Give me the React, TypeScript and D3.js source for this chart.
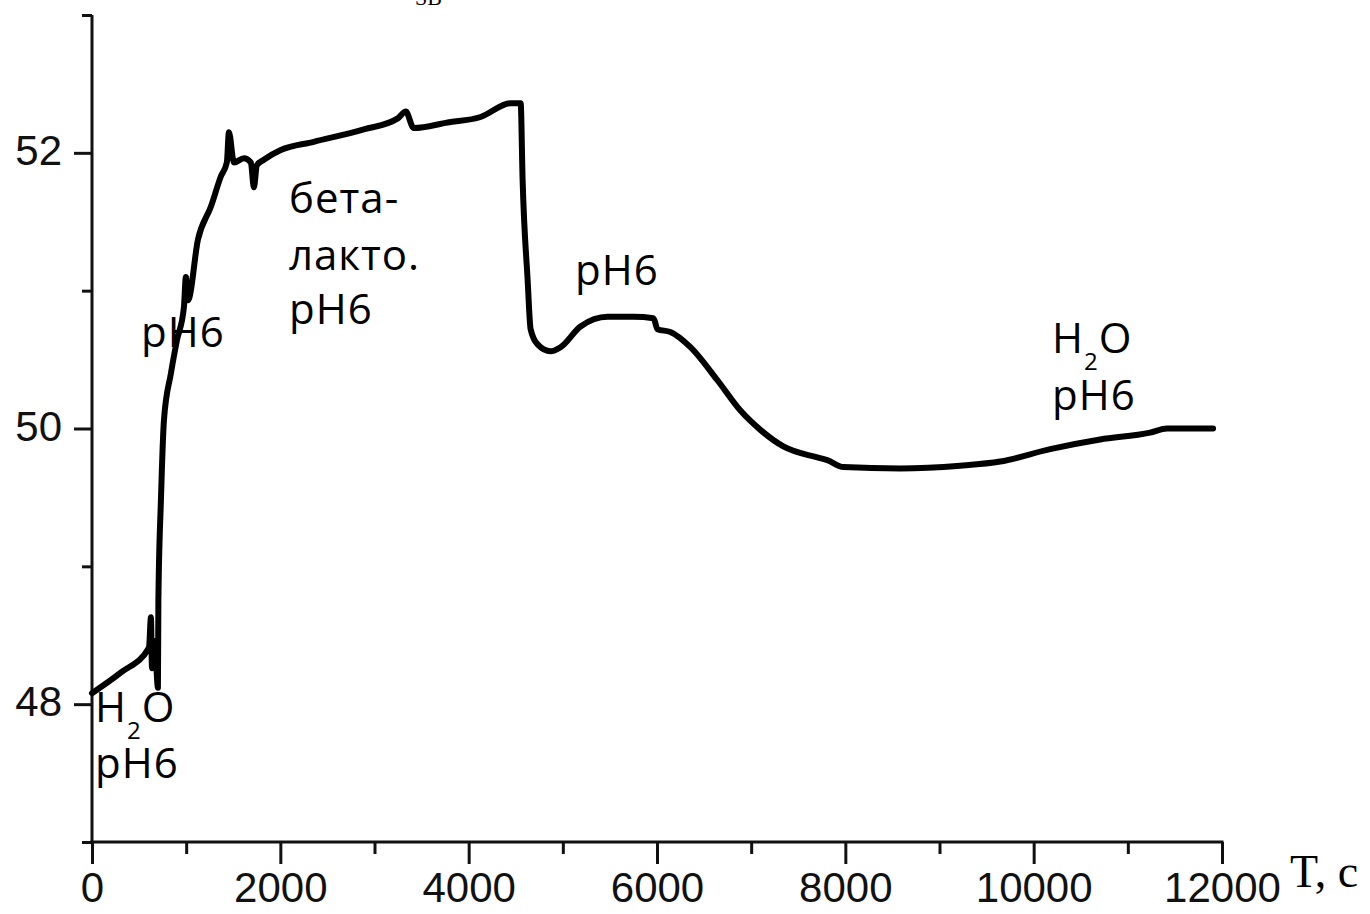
import React, { useRef, useEffect } from 'react';
import * as d3 from 'd3';

// time, s
const times = [
  0, 308, 605, 626, 637, 658, 679, 700, 705, 732, 764, 838, 902, 976, 997, 1019,
  1125, 1263, 1369, 1432, 1454, 1507, 1613, 1687, 1719, 1751, 1825, 2005, 2355,
  2886, 3247, 3332, 3416, 3777, 4127, 4446, 4552, 4573, 4626, 4658, 4732, 4870,
  4976, 5188, 5475, 5751, 5963, 6005, 6143, 6355, 6642, 6886, 7098, 7342, 7703,
  7809, 7979, 8584, 9220, 9645, 10175, 10706, 11236, 11416, 11905,
];
const values = [
  48.08, 48.23, 48.41, 48.63, 48.26, 48.46, 48.32, 48.12, 48.75, 49.48, 50.06, 50.4,
  50.64, 50.88, 51.1, 50.93, 51.37, 51.61, 51.83, 51.93, 52.15, 51.93, 51.96, 51.93,
  51.75, 51.91, 51.95, 52.02, 52.08, 52.17, 52.25, 52.3, 52.18, 52.22, 52.26, 52.36,
  52.36, 51.8, 51.08, 50.72, 50.61, 50.56, 50.59, 50.74, 50.81, 50.81, 50.8, 50.72,
  50.7, 50.59, 50.35, 50.13, 49.99, 49.87, 49.79, 49.77, 49.72, 49.71, 49.73, 49.76,
  49.85, 49.92, 49.97, 50.0, 50.0,
];

const xMajor = [0, 2000, 4000, 6000, 8000, 10000, 12000];
const xMinor = [1000, 3000, 5000, 7000, 9000, 11000];
const yMajor = [48, 50, 52];
const yMinor = [47, 49, 51, 53];

const SANS = '"Liberation Sans", Arial, sans-serif';
const NOTE = '"Open Sans", "Noto Sans", sans-serif';
const SERIF = '"Liberation Serif", "Times New Roman", serif';
const INK = '#111';

const App: React.FC = () => {
  const ref = useRef<SVGSVGElement>(null);

  useEffect(() => {
    if (!ref.current) return;
    const svg = d3.select(ref.current);
    svg.selectAll('*').remove();

    const x = d3.scaleLinear().domain([0, 12000]).range([92, 1222]);
    const y = d3.scaleLinear().domain([47, 53]).range([842, 15]);

    const styleAxis = (a: any) => {
      a.select('.domain').remove();
      a.selectAll('line').style('stroke', INK).style('stroke-width', 3);
      a.selectAll('text').style('fill', INK).style('font-family', SANS).style('font-size', '42px');
    };

    // x axis
    const xA = svg.append('g').attr('transform', `translate(0,${y(47)})`)
      .call(d3.axisBottom(x).tickValues(xMajor).tickSize(22).tickPadding(8).tickFormat(d3.format('d')));
    styleAxis(xA);
    const xm = svg.append('g').attr('transform', `translate(0,${y(47)})`)
      .call(d3.axisBottom(x).tickValues(xMinor).tickSize(12).tickFormat(() => ''));
    styleAxis(xm);

    // y axis
    const yA = svg.append('g').attr('transform', `translate(${x(0)},0)`)
      .call(d3.axisLeft(y).tickValues(yMajor).tickSize(18).tickPadding(12).tickFormat(d3.format('d')));
    styleAxis(yA);
    yA.selectAll('text').attr('dy', '0.28em');
    const ym = svg.append('g').attr('transform', `translate(${x(0)},0)`)
      .call(d3.axisLeft(y).tickValues(yMinor).tickSize(10).tickFormat(() => ''));
    styleAxis(ym);

    svg.append('line')
      .attr('x1', x(0)).attr('x2', x(0)).attr('y1', y(53)).attr('y2', y(47) + 1.5)
      .style('stroke', INK).style('stroke-width', 3);
    svg.append('line')
      .attr('x1', x(0) - 1.5).attr('x2', x(12000) + 1.5).attr('y1', y(47)).attr('y2', y(47))
      .style('stroke', INK).style('stroke-width', 3);

    // curve
    const pts = times.map((t, i) => [t, values[i]] as [number, number]);
    svg.append('path')
      .datum(pts)
      .attr('fill', 'none')
      .attr('stroke', '#000')
      .attr('stroke-width', 6)
      .attr('stroke-linejoin', 'round')
      .attr('stroke-linecap', 'round')
      .attr('d', d3.line<[number, number]>().x(d => x(d[0])).y(d => y(d[1])).curve(d3.curveMonotoneX) as any);

    // annotations
    const note = (tx: number, ty: number, s: string) =>
      svg.append('text').attr('x', tx).attr('y', ty)
        .style('font-family', NOTE).style('font-size', '42px').style('letter-spacing', '1px')
        .style('fill', '#000').text(s);
    const water = (tx: number, ty: number) => {
      const t = svg.append('text').attr('x', tx).attr('y', ty)
        .style('font-family', NOTE).style('font-size', '42px').style('letter-spacing', '1px')
        .style('fill', '#000');
      t.append('tspan').text('H');
      t.append('tspan').attr('dy', 17).style('font-size', '24px').text('2');
      t.append('tspan').attr('dy', -17).text('O');
    };

    water(95, 722);
    note(95, 778, 'pH6');
    note(141, 347, 'pH6');
    note(289, 213, 'бета-');
    note(289, 270, 'лакто.');
    note(289, 324, 'pH6');
    note(575, 285, 'pH6');
    water(1052, 353);
    note(1052, 410, 'pH6');

    svg.append('text').attr('x', 1290).attr('y', 887)
      .style('font-family', SERIF).style('font-size', '46px').style('fill', '#000').text('T, c');

    // cut-off title subscript
    svg.append('text').attr('x', 415).attr('y', 5)
      .style('font-family', SERIF).style('font-size', '22px').style('fill', '#000').text('SB');
  }, []);

  return (
    <svg ref={ref} width={1370} height={914}
      style={{ position: 'absolute', left: 0, top: 0, background: '#fff' }} />
  );
};

export default App;
